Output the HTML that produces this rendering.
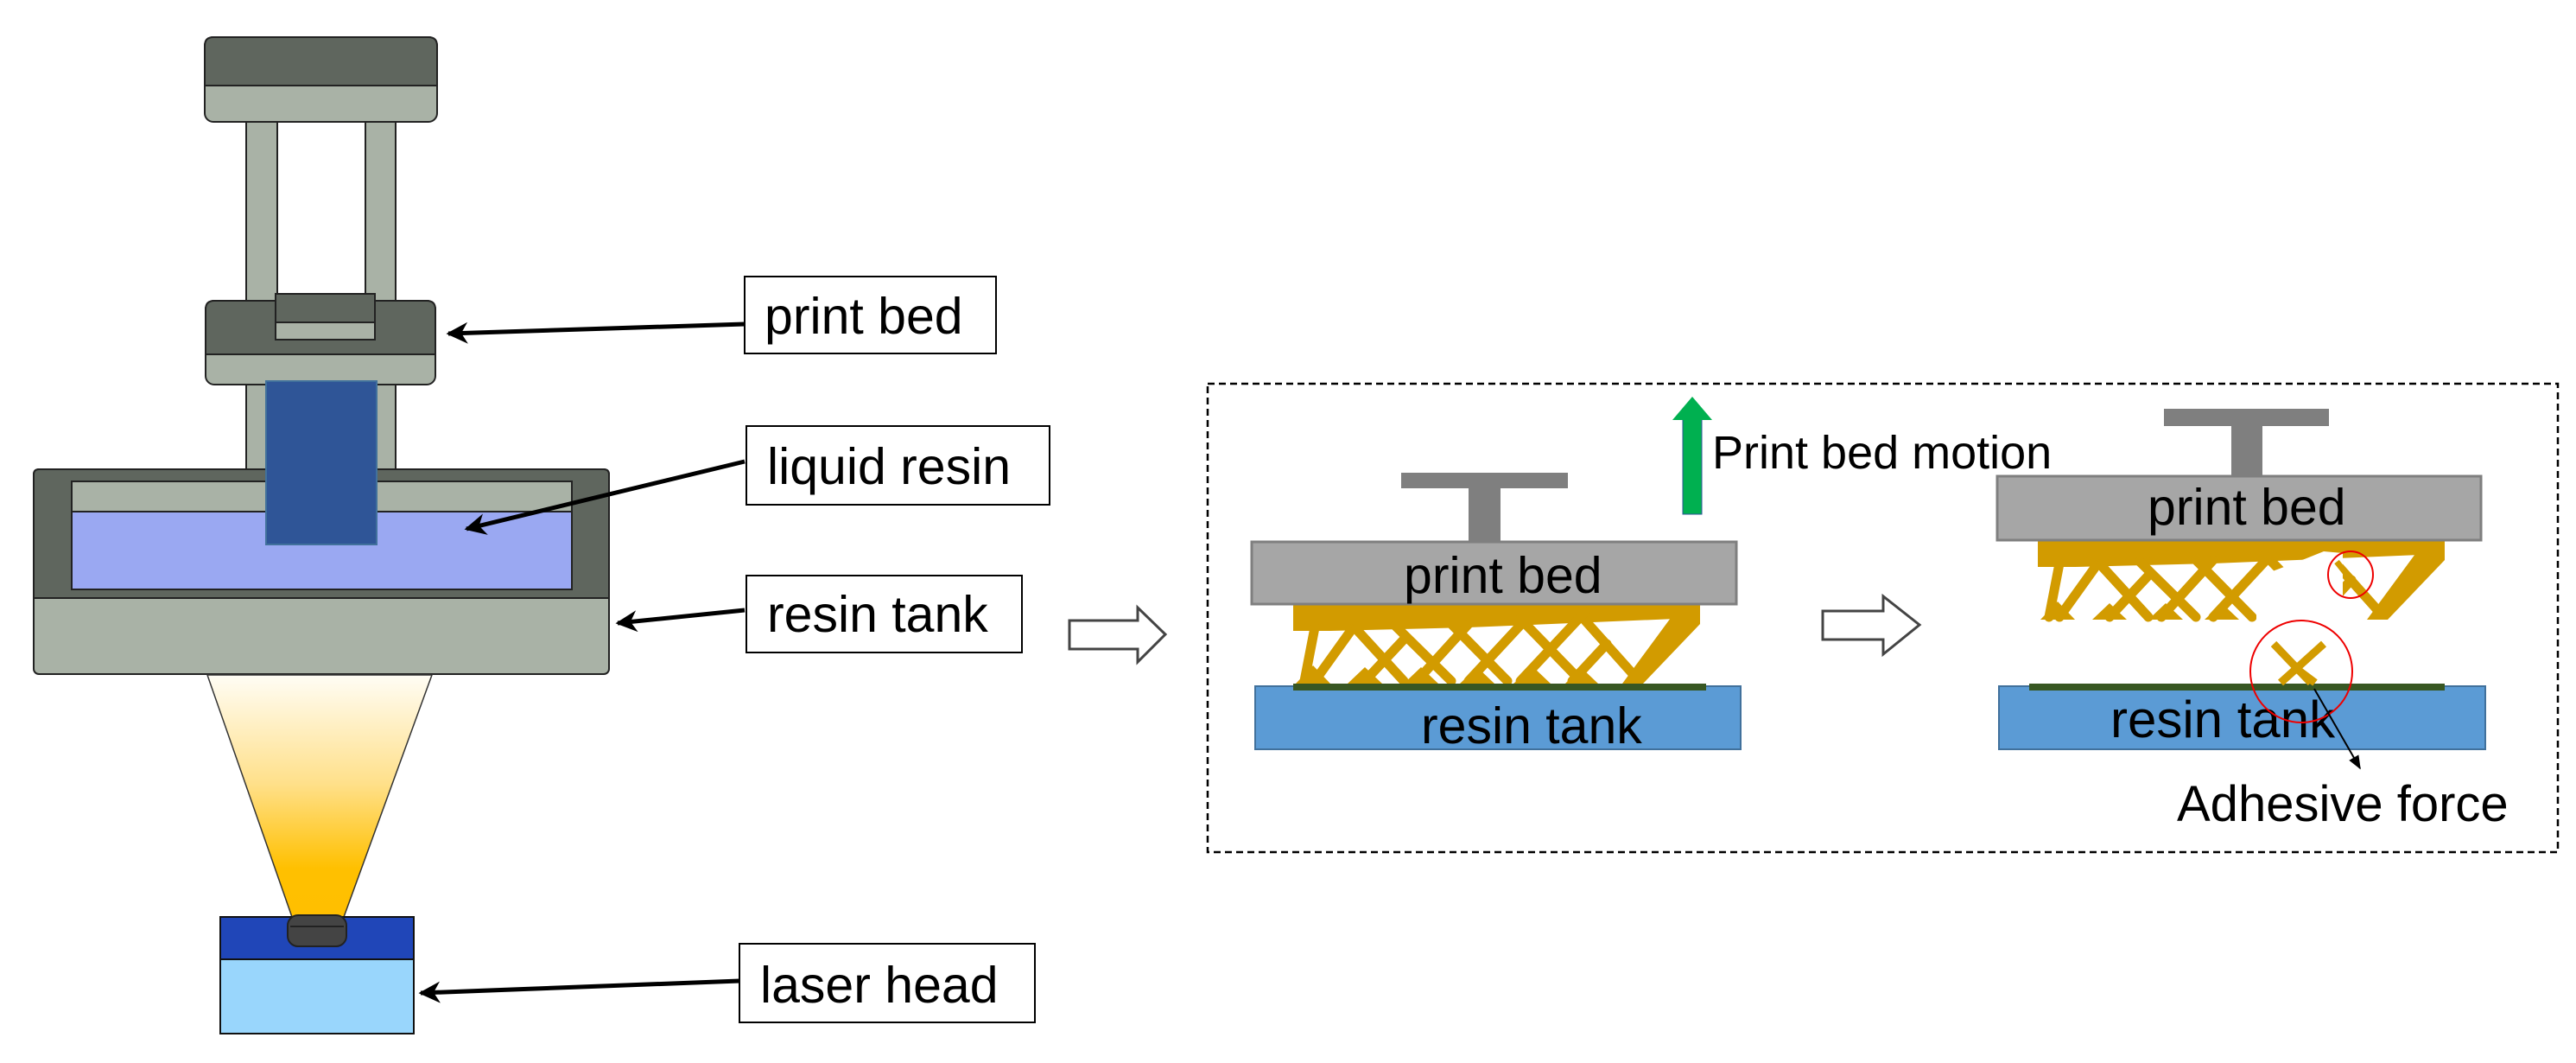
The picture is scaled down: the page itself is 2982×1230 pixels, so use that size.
<!DOCTYPE html>
<html><head><meta charset="utf-8"><style>
html,body{margin:0;padding:0;background:#fff}
svg{display:block}
text{font-family:"Liberation Sans",Arial,sans-serif;fill:#000}
</style></head><body>
<svg width="2982" height="1230" viewBox="0 0 2982 1230" xmlns="http://www.w3.org/2000/svg">
<defs>
<linearGradient id="cone" x1="0" y1="0" x2="0" y2="1">
<stop offset="0" stop-color="#fffdf5"/><stop offset="0.45" stop-color="#ffe08a"/><stop offset="0.8" stop-color="#ffc000"/><stop offset="1" stop-color="#ffbf00"/>
</linearGradient>
<marker id="ah" viewBox="0 0 10 10" refX="9" refY="5" markerWidth="5" markerHeight="5" orient="auto"><path d="M0,0 L10,5 L0,10 L3,5 z" fill="#000"/></marker>
<marker id="ah2" viewBox="0 0 10 10" refX="9" refY="5" markerWidth="8" markerHeight="8" orient="auto"><path d="M0,1 L10,5 L0,9 z" fill="#000"/></marker>
<g id="latt">
<polygon points="1497,699 1968,699 1968,716 1940,716 1700,726 1540,730 1497,730" fill="#d29b00"/>
<g stroke="#d29b00" stroke-width="11" fill="none" stroke-linecap="round">
<line x1="1522" y1="726" x2="1510" y2="788"/>
<line x1="1565" y1="728" x2="1522" y2="788"/>
<line x1="1570" y1="728" x2="1625" y2="788"/>
<line x1="1615" y1="724" x2="1680" y2="788"/>
<line x1="1680" y1="722" x2="1745" y2="788"/>
<line x1="1760" y1="716" x2="1830" y2="788"/>
<line x1="1826" y1="708" x2="1893" y2="783"/>
<line x1="1580" y1="788" x2="1625" y2="740"/>
<line x1="1640" y1="788" x2="1700" y2="722"/>
<line x1="1700" y1="788" x2="1765" y2="718"/>
<line x1="1760" y1="788" x2="1835" y2="708"/>
<line x1="1820" y1="788" x2="1860" y2="745"/>
</g>
<polygon points="1945,700 1968,700 1968,722 1902,791 1878,791" fill="#d29b00"/>
<g fill="#d29b00">
<polygon points="1500,791 1540,791 1520,770"/><polygon points="1560,791 1600,791 1580,772"/><polygon points="1625,791 1665,791 1645,772"/><polygon points="1690,791 1730,791 1710,772"/><polygon points="1752,791 1795,791 1775,772"/><polygon points="1812,791 1850,791 1830,772"/>
</g>
</g>
</defs>

<!-- LEFT MACHINE -->
<rect x="285" y="141" width="36" height="210" fill="#a9b2a6" stroke="#222" stroke-width="2"/>
<rect x="423" y="141" width="35" height="210" fill="#a9b2a6" stroke="#222" stroke-width="2"/>
<rect x="285" y="440" width="36" height="106" fill="#a9b2a6" stroke="#222" stroke-width="2"/>
<rect x="423" y="440" width="35" height="106" fill="#a9b2a6" stroke="#222" stroke-width="2"/>
<rect x="237" y="43" width="269" height="98" rx="10" fill="#a9b2a6" stroke="#222" stroke-width="2"/>
<path d="M237,99 L237,53 Q237,43 247,43 L496,43 Q506,43 506,53 L506,99 Z" fill="#5f665e" stroke="#222" stroke-width="2"/>
<rect x="238" y="348" width="266" height="97" rx="10" fill="#a9b2a6" stroke="#222" stroke-width="2"/>
<path d="M238,410 L238,358 Q238,348 248,348 L494,348 Q504,348 504,358 L504,410 Z" fill="#5f665e" stroke="#222" stroke-width="2"/>
<rect x="319" y="340" width="115" height="53" fill="#a9b2a6" stroke="#222" stroke-width="2"/>
<rect x="319" y="340" width="115" height="33" fill="#5f665e" stroke="#222" stroke-width="2"/>
<rect x="39" y="543" width="666" height="237" rx="6" fill="#a9b2a6" stroke="#222" stroke-width="2"/>
<path d="M39,692 L39,549 Q39,543 45,543 L699,543 Q705,543 705,549 L705,692 Z" fill="#5f665e" stroke="#222" stroke-width="2"/>
<rect x="83" y="557" width="579" height="125" fill="#9aa8f2" stroke="#222" stroke-width="2"/>
<rect x="83" y="557" width="579" height="35" fill="#a9b2a6" stroke="#222" stroke-width="2"/>
<rect x="308" y="441" width="128" height="189" fill="#2f5597" stroke="#41719c" stroke-width="2"/>
<polygon points="240,781 500,781 398,1061 338,1061" fill="url(#cone)" stroke="#333" stroke-width="1.5"/>
<rect x="255" y="1061" width="224" height="135" fill="#99d6fc" stroke="#111" stroke-width="2"/>
<rect x="255" y="1061" width="224" height="49" fill="#2046b8" stroke="#111" stroke-width="2"/>
<rect x="333" y="1059" width="68" height="36" rx="12" fill="#444" stroke="#222" stroke-width="2"/>
<line x1="336" y1="1072" x2="398" y2="1072" stroke="#222" stroke-width="2"/>

<!-- LABELS -->
<g stroke="#000" stroke-width="5" fill="none">
<line x1="862" y1="375" x2="519" y2="386" marker-end="url(#ah)"/>
<line x1="862" y1="534" x2="540" y2="612" marker-end="url(#ah)"/>
<line x1="862" y1="706" x2="715" y2="721" marker-end="url(#ah)"/>
<line x1="856" y1="1135" x2="487" y2="1149" marker-end="url(#ah)"/>
</g>
<g fill="#fff" stroke="#000" stroke-width="2">
<rect x="862" y="320" width="291" height="89"/>
<rect x="864" y="493" width="351" height="91"/>
<rect x="864" y="666" width="319" height="89"/>
<rect x="856" y="1092" width="342" height="91"/>
</g>
<text x="885" y="386" font-size="59">print bed</text>
<text x="888" y="560" font-size="59">liquid resin</text>
<text x="888" y="731" font-size="59">resin tank</text>
<text x="880" y="1160" font-size="59">laser head</text>

<polygon points="1238,718 1317,718 1317,703 1349,734 1317,766 1317,751 1238,751" fill="#fff" stroke="#444" stroke-width="3"/>

<!-- RIGHT PANEL -->
<rect x="1398" y="444" width="1563" height="542" fill="none" stroke="#000" stroke-width="2.5" stroke-dasharray="8,5"/>

<rect x="1622" y="547" width="193" height="18" fill="#7f7f7f"/>
<rect x="1700" y="563" width="37" height="66" fill="#7f7f7f"/>
<use href="#latt"/>
<rect x="1449" y="627" width="561" height="72" fill="#a6a6a6" stroke="#7f7f7f" stroke-width="3"/>
<text x="1625" y="686" font-size="59">print bed</text>
<rect x="1453" y="794" width="562" height="73" fill="#5b9bd5" stroke="#41719c" stroke-width="2"/>
<rect x="1497" y="791" width="478" height="8" fill="#385723"/>
<text x="1645" y="860" font-size="59">resin tank</text>

<rect x="1948" y="484" width="22" height="111" fill="#00b050" stroke="#2f5597" stroke-width="1"/>
<polygon points="1936,486 1959,459 1982,486" fill="#00b050"/>
<text x="1982" y="542" font-size="54">Print bed motion</text>

<polygon points="2110,707 2180,707 2180,690 2222,723 2180,757 2180,740 2110,740" fill="#fff" stroke="#444" stroke-width="3"/>

<rect x="2505" y="473" width="191" height="20" fill="#7f7f7f"/>
<rect x="2583" y="491" width="36" height="61" fill="#7f7f7f"/>
<svg x="2300" y="620" width="600" height="100" viewBox="2300 620 600 100" overflow="hidden">
<use href="#latt" transform="translate(862,-74)"/>
<polygon points="2612,668 2660,650 2690,638 2712,640 2712,720 2612,720" fill="#fff"/>
<line x1="2705" y1="650" x2="2745" y2="700" stroke="#d29b00" stroke-width="7"/>
</svg>
<rect x="2312" y="551" width="560" height="74" fill="#a6a6a6" stroke="#7f7f7f" stroke-width="3"/>
<text x="2486" y="607" font-size="59">print bed</text>
<rect x="2314" y="794" width="563" height="73" fill="#5b9bd5" stroke="#41719c" stroke-width="2"/>
<rect x="2349" y="791" width="481" height="8" fill="#385723"/>
<g stroke="#d29b00" stroke-width="9" fill="none">
<line x1="2632" y1="745" x2="2675" y2="790"/>
<line x1="2690" y1="745" x2="2640" y2="790"/>
<line x1="2660" y1="775" x2="2680" y2="790"/>
</g>
<text x="2443" y="853" font-size="60">resin tank</text>
<ellipse cx="2721" cy="665" rx="26" ry="27" fill="none" stroke="#e00" stroke-width="2"/>
<ellipse cx="2664" cy="777" rx="59" ry="59" fill="none" stroke="#e00" stroke-width="2"/>
<line x1="2679" y1="797" x2="2732" y2="889" stroke="#000" stroke-width="2" marker-end="url(#ah2)"/>
<text x="2520" y="950" font-size="58">Adhesive force</text>
</svg>
</body></html>
